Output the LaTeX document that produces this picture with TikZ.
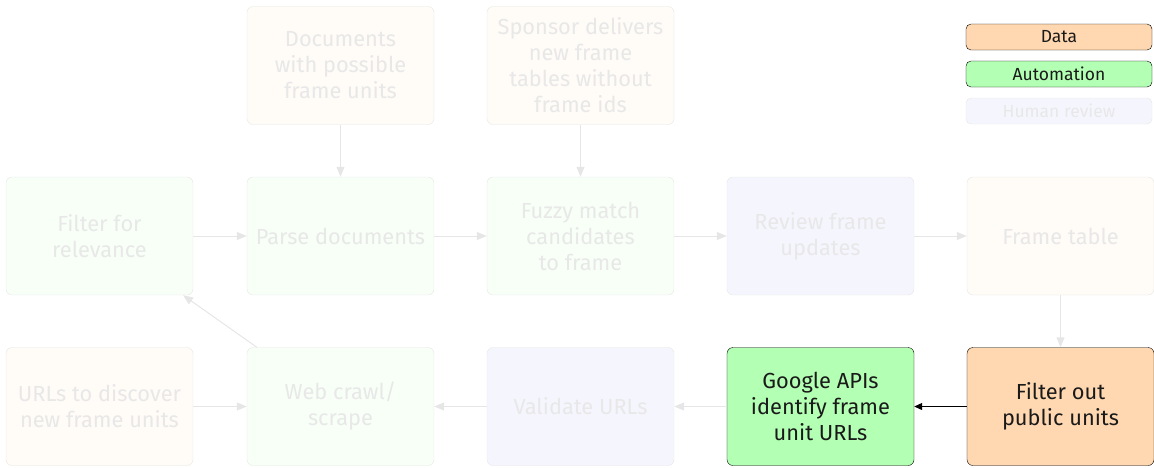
\documentclass[tikz,border=0pt]{standalone}
\usepackage{fontspec}
\setmainfont{Fira Sans}
\usetikzlibrary{arrows.meta}
\definecolor{dataC}{HTML}{FFD8B1}
\definecolor{autoC}{HTML}{B3FFB3}
\definecolor{dataFade}{HTML}{FFFBF7}
\definecolor{autoFade}{HTML}{F7FFF7}
\definecolor{humanFade}{HTML}{F5F5FE}
\definecolor{fadeEdge}{HTML}{E6E6E6}
\definecolor{fadeText}{HTML}{E8E8E8}
\definecolor{inkC}{HTML}{1A1A1A}
\tikzset{
  box/.style={rounded corners=6pt, minimum width=187pt, minimum height=118pt,
    align=center, inner sep=0pt, font=\fontsize{21.8}{26}\selectfont},
  fdata/.style={box, fill=dataFade, draw=fadeEdge, text=fadeText},
  fauto/.style={box, fill=autoFade, draw=fadeEdge, text=fadeText},
  fhuman/.style={box, fill=humanFade, draw=fadeEdge, text=fadeText},
  hdata/.style={box, fill=dataC, draw=black, text=inkC},
  hauto/.style={box, fill=autoC, draw=black, text=inkC},
  legendbox/.style={rounded corners=5pt, minimum width=186pt, minimum height=26pt,
    inner sep=0pt, font=\fontsize{17.5}{20}\selectfont},
  farrow/.style={draw=fadeEdge, line width=1pt, -{Triangle[length=10pt,width=8pt]}},
  harrow/.style={draw=black, line width=1pt, -{Triangle[length=8pt,width=7pt]}},
}
\begin{document}
\begin{tikzpicture}[x=1pt,y=-1pt]
\useasboundingbox (0,0) rectangle (1154,467);
% row 1
\node[fdata] (docs) at (340.5,65.5) {Documents\\with possible\\frame units};
\node[fdata] (sponsor) at (580.5,65.5) {Sponsor delivers\\new frame\\tables without\\frame ids};
% legend
\node[legendbox, fill=dataC, draw=black, text=inkC] (lgdata) at (1059,37) {Data};
\node[legendbox, fill=autoC, draw=black, text=inkC] (lgauto) at (1059,74) {Automation};
\node[legendbox, fill=humanFade, draw=fadeEdge, text=fadeText] (lghuman) at (1059,111) {Human review};
% row 2
\node[fauto] (filter) at (99.5,236) {Filter for\\relevance};
\node[fauto] (parse) at (340.5,236) {Parse documents};
\node[fauto] (fuzzy) at (580.5,236) {Fuzzy match\\candidates\\to frame};
\node[fhuman] (review) at (820.5,236) {Review frame\\updates};
\node[fdata] (frame) at (1060.5,236) {Frame table};
% row 3
\node[fdata] (urls) at (99.5,406.5) {URLs to discover\\new frame units};
\node[fauto] (crawl) at (340.5,406.5) {Web crawl/\\scrape};
\node[fhuman] (validate) at (580.5,406.5) {Validate URLs};
\node[hauto] (google) at (820.5,406.5) {Google APIs\\identify frame\\unit URLs};
\node[hdata] (public) at (1060.5,406.5) {Filter out\\public units};
% connectors
\draw[farrow] (docs) -- (parse);
\draw[farrow] (sponsor) -- (fuzzy);
\draw[farrow] (filter) -- (parse);
\draw[farrow] (parse) -- (fuzzy);
\draw[farrow] (fuzzy) -- (review);
\draw[farrow] (review) -- (frame);
\draw[farrow] (frame) -- (public);
\draw[farrow] (google) -- (validate);
\draw[farrow] (validate) -- (crawl);
\draw[farrow] (urls) -- (crawl);
\draw[farrow] (crawl) -- (filter);
\draw[harrow] (public) -- (google);
\end{tikzpicture}
\end{document}
